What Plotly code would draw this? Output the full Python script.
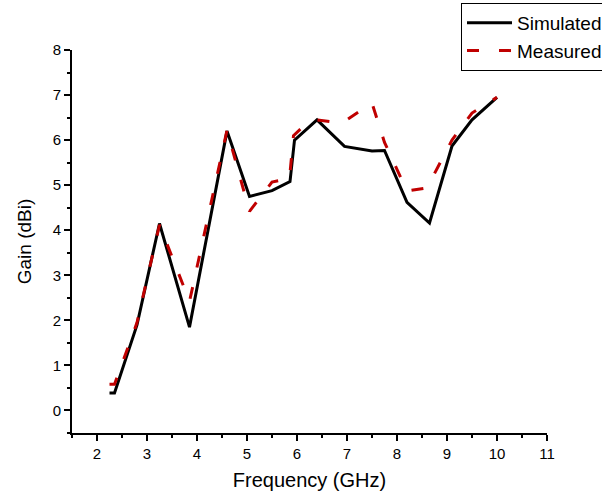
import plotly.graph_objects as go

# Data
sim_freq = [2.25, 2.35, 2.8, 3.25, 3.85, 4.6, 5.05, 5.5, 5.86, 5.95, 6.4, 6.95, 7.5, 7.75, 8.2, 8.65, 9.1, 9.5, 10.0]
sim_gain = [0.39, 0.39, 1.9, 4.15, 1.85, 6.2, 4.75, 4.88, 5.08, 6.0, 6.45, 5.86, 5.76, 5.77, 4.62, 4.16, 5.87, 6.45, 6.95]

meas_freq = [2.25, 2.35, 2.8, 3.25, 3.85, 4.6, 5.05, 5.5, 5.85, 5.93, 6.2, 6.4, 6.9, 7.5, 7.75, 8.2, 8.6, 9.1, 9.5, 10.0]
meas_gain = [0.58, 0.58, 1.95, 4.12, 2.42, 6.22, 4.42, 5.07, 5.15, 6.1, 6.38, 6.45, 6.38, 6.82, 5.95, 4.87, 4.94, 6.0, 6.6, 6.95]

x_ticks = [2, 3, 4, 5, 6, 7, 8, 9, 10, 11]
y_ticks = [0, 1, 2, 3, 4, 5, 6, 7, 8]

FONT = "Liberation Sans, Arial, sans-serif"

fig = go.Figure()
fig.add_trace(go.Scatter(
    x=sim_freq, y=sim_gain, mode="lines", name="Simulated",
    line=dict(color="#000000", width=3),
))
fig.add_trace(go.Scatter(
    x=meas_freq, y=meas_gain, mode="lines", name="Measured",
    line=dict(color="#C00000", width=3, dash="12px,20px"),
))

axis_common = dict(
    showline=True, linecolor="black", linewidth=2,
    ticks="outside", ticklen=6, tickwidth=2, tickcolor="black",
    showgrid=False, zeroline=False,
    tickfont=dict(family=FONT, size=15, color="black"),
    minor=dict(ticks="outside", ticklen=3, tickwidth=2, tickcolor="black", showgrid=False),
)

fig.update_layout(
    width=602, height=498,
    margin=dict(l=72, r=55, t=50, b=65, autoexpand=False),
    paper_bgcolor="white", plot_bgcolor="white",
    font=dict(family=FONT, color="black"),
    xaxis=dict(
        range=[1.5, 11], tickvals=x_ticks, ticktext=[str(v) for v in x_ticks],
        title=dict(text="Frequency (GHz)", font=dict(family=FONT, size=20), standoff=12),
        **axis_common,
    ),
    yaxis=dict(
        range=[-0.5, 8], tickvals=y_ticks, ticktext=[str(v) for v in y_ticks],
        title=dict(text="Gain (dBi)", font=dict(family=FONT, size=19), standoff=16),
        **axis_common,
    ),
    showlegend=True,
    legend=dict(
        x=461 / 602, y=1 - 3 / 498, xref="container", yref="container",
        xanchor="left", yanchor="top",
        bordercolor="black", borderwidth=1, bgcolor="white",
        font=dict(family=FONT, size=19, color="black"),
        itemwidth=45, tracegroupgap=0,
    ),
)
fig.update_xaxes(minor=dict(dtick=0.5, tick0=1.5))
fig.update_yaxes(minor=dict(dtick=0.5, tick0=-0.5))

fig.write_html("out.html")
